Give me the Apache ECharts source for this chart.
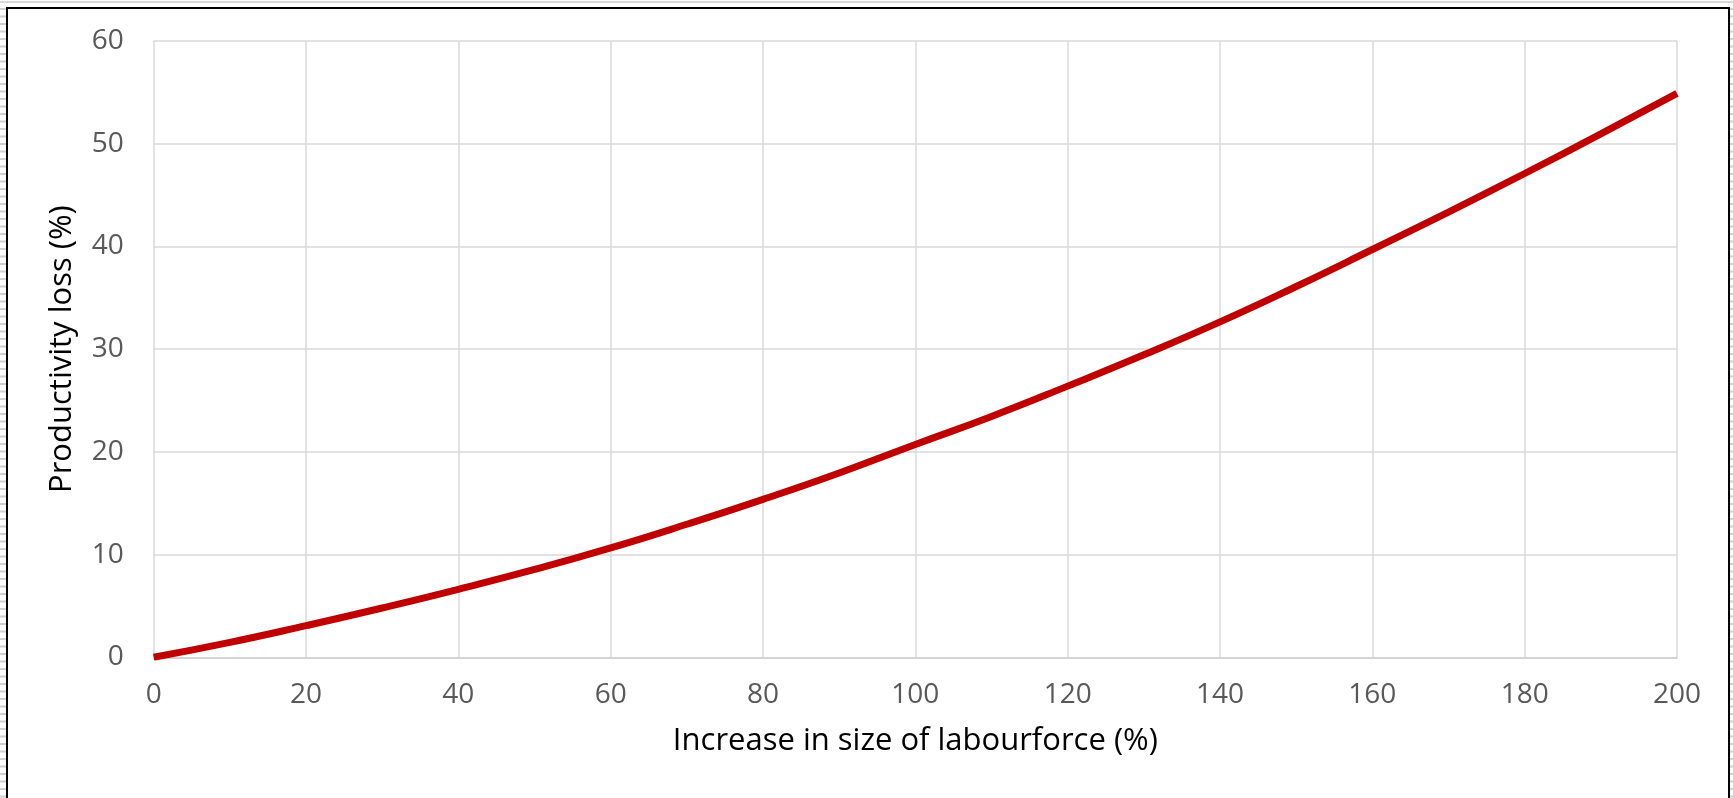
<!DOCTYPE html>
<html>
<head>
<meta charset="utf-8">
<script src="https://cdn.jsdelivr.net/npm/echarts@6/dist/echarts.min.js"></script>
<style>
html,body{margin:0;padding:0;background:#fff;}
#chart{width:1733px;height:798px;}
</style>
</head>
<body>
<div id="chart"></div>
<script>
const labourIncrease = [0, 10, 20, 30, 40, 50, 60, 70, 80, 90, 100, 110, 120, 130, 140, 150, 160, 170, 180, 190, 200];
const productivityLoss = [0, 1.45, 3.08, 4.8, 6.62, 8.55, 10.65, 12.95, 15.38, 17.95, 20.72, 23.45, 26.4, 29.45, 32.66, 36.1, 39.7, 43.35, 47.1, 50.95, 54.9];
const xTitle = 'Increase in size of labourforce (%)';
const yTitle = 'Productivity loss (%)';

const chart = echarts.init(document.getElementById('chart'));
const fontFamily = '"Open Sans", "Noto Sans", sans-serif';
chart.setOption({
  backgroundColor: '#ffffff',
  animation: false,
  graphic: [
    { type: 'line', shape: { x1: 0, y1: 2, x2: 1733, y2: 2 }, style: { stroke: '#d9d9d9', lineWidth: 2 }, silent: true },
    { type: 'line', shape: { x1: 3, y1: 8, x2: 3, y2: 798 }, style: { stroke: '#d0d0d0', lineWidth: 6, lineDash: [2, 5.5] }, silent: true },
    { type: 'line', shape: { x1: 1731.5, y1: 8, x2: 1731.5, y2: 798 }, style: { stroke: '#d0d0d0', lineWidth: 3, lineDash: [2, 5.5] }, silent: true },
    { type: 'rect', shape: { x: 7, y: 8, width: 1722, height: 800 }, style: { fill: 'none', stroke: '#000000', lineWidth: 2 }, silent: true }
  ],
  grid: { left: 153.7, right: 56, top: 41, bottom: 140.7, containLabel: false },
  xAxis: {
    type: 'value', min: 0, max: 200, interval: 20,
    name: xTitle, nameLocation: 'middle', nameGap: 68,
    nameTextStyle: { color: '#000', fontSize: 31, fontFamily: fontFamily },
    axisLine: { show: true, lineStyle: { color: '#d0d0d0', width: 1.5 } },
    axisTick: { show: false },
    axisLabel: { color: '#595959', fontSize: 28, fontFamily: fontFamily, margin: 24 },
    splitLine: { show: true, lineStyle: { color: '#d9d9d9', width: 1.5 } }
  },
  yAxis: {
    type: 'value', min: 0, max: 60, interval: 10,
    name: yTitle, nameLocation: 'middle', nameGap: 76, nameRotate: 90,
    nameTextStyle: { color: '#000', fontSize: 31, fontFamily: fontFamily },
    axisLine: { show: false },
    axisTick: { show: false },
    axisLabel: { color: '#595959', fontSize: 28, fontFamily: fontFamily, margin: 30 },
    splitLine: { show: true, lineStyle: { color: '#d9d9d9', width: 1.5 } }
  },
  series: [{
    type: 'line',
    data: labourIncrease.map((x, i) => [x, productivityLoss[i]]),
    smooth: true,
    showSymbol: false,
    lineStyle: { color: '#c00000', width: 7 },
    clip: true
  }]
});
</script>
</body>
</html>
